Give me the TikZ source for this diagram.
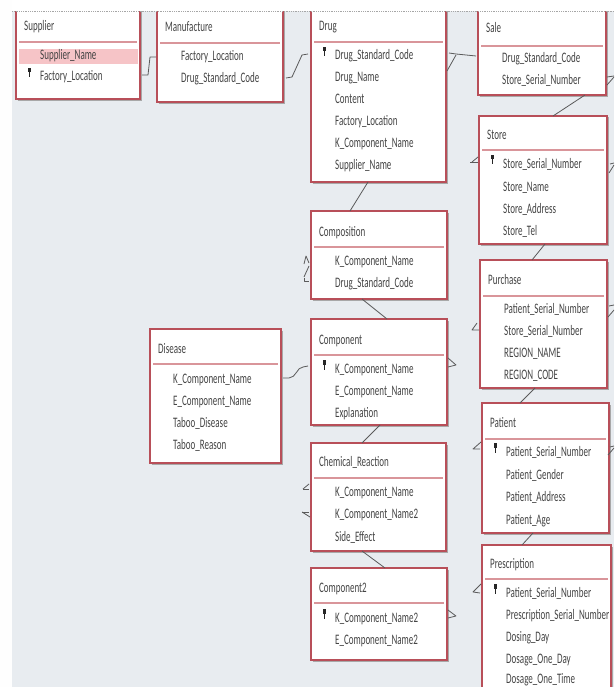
\documentclass[tikz,border=0pt]{standalone}
\usepackage{fontspec}
\newfontfamily\accfont[FakeStretch=0.62]{Carlito}
\usetikzlibrary{calc}
\definecolor{bg}{HTML}{E8ECF0}
\definecolor{bord}{HTML}{B84F59}
\definecolor{sepc}{HTML}{D9959A}
\definecolor{txt}{HTML}{444444}
\definecolor{hl}{HTML}{F6C4C7}
\definecolor{lnk}{HTML}{5A5A5A}
\definecolor{shadowc}{HTML}{A8A8A8}
\tikzset{
  tbl/.style={draw=bord, line width=1.4pt, fill=white, anchor=north west, inner sep=0pt, outer sep=0pt},
  fld/.style={anchor=base west, inner sep=0pt, text=txt, font=\accfont\fontsize{14.5}{15}\selectfont},
  ttl/.style={fld},
  lnkline/.style={draw=lnk, line width=0.8pt, line join=round},
  keyc/.style={fill=black!85},
}
% name, L, T, R, B, titleY, sepY, title
\newcommand\acctable[8]{%
  \draw[shadowc, line width=1pt] (#2+1.5,#5+1.3) -- (#4+1.3,#5+1.3) -- (#4+1.3,#3+1.5);
  \node[tbl, minimum width={(#4-#2)*1pt}, minimum height={(#5-#3)*1pt}] (#1) at (#2,#3) {};
  \draw[sepc, line width=1.3pt] (#2+3,#7) -- (#4-3,#7);
  \node[ttl] (#1-t) at (#2+8,#6+4) {#8};
}
% name, boxL, rowY, text
\newcommand\accfield[4]{\node[fld] (#1) at (#2+24,#3+4) {#4};}
% boxL, rowY
\newcommand\acckey[2]{%
  \fill[keyc] (#1+12,#2-9) rectangle (#1+15,#2-4.5);
  \fill[keyc] (#1+13,#2-4.5) rectangle (#1+14.2,#2+0.5);
}
\begin{document}
\begin{tikzpicture}[x=1pt,y=-1pt]
\useasboundingbox (0,0) rectangle (614,687);
\clip (0,0) rectangle (614,687);
\fill[bg] (0,0) rectangle (614,687);

% ---- tables ----
\acctable{sup}{16}{-5}{140}{99}{27}{42}{Supplier}
\fill[hl] (19,49) rectangle (138,64);
\accfield{sup-1}{16}{56}{Supplier\_Name}
\accfield{sup-2}{16}{77}{Factory\_Location}
\acckey{16}{77}

\acctable{man}{157}{-5}{283}{102}{28}{43}{Manufacture}
\accfield{man-1}{157}{57}{Factory\_Location}
\accfield{man-2}{157}{79}{Drug\_Standard\_Code}

\acctable{drug}{311}{-5}{446}{182}{27}{42}{Drug}
\accfield{drug-1}{311}{56}{Drug\_Standard\_Code}
\acckey{311}{56}
\accfield{drug-2}{311}{78}{Drug\_Name}
\accfield{drug-3}{311}{100}{Content}
\accfield{drug-4}{311}{122}{Factory\_Location}
\accfield{drug-5}{311}{144}{K\_Component\_Name}
\accfield{drug-6}{311}{166}{Supplier\_Name}

\acctable{sale}{478}{-5}{606}{95}{29}{46}{Sale}
\accfield{sale-1}{478}{59}{Drug\_Standard\_Code}
\accfield{sale-2}{478}{81}{Store\_Serial\_Number}

\acctable{store}{479}{116}{607}{244}{136}{150}{Store}
\accfield{store-1}{479}{164}{Store\_Serial\_Number}
\acckey{479}{164}
\accfield{store-2}{479}{187}{Store\_Name}
\accfield{store-3}{479}{209}{Store\_Address}
\accfield{store-4}{479}{231}{Store\_Tel}

\acctable{compo}{311}{211}{447}{299}{232}{247}{Composition}
\accfield{compo-1}{311}{261}{K\_Component\_Name}
\accfield{compo-2}{311}{283}{Drug\_Standard\_Code}

\acctable{comp}{311}{319}{447}{425}{340}{355}{Component}
\accfield{comp-1}{311}{369}{K\_Component\_Name}
\acckey{311}{369}
\accfield{comp-2}{311}{391}{E\_Component\_Name}
\accfield{comp-3}{311}{413}{Explanation}

\acctable{dis}{150}{329}{281}{463}{349}{364}{Disease}
\accfield{dis-1}{149}{379}{K\_Component\_Name}
\accfield{dis-2}{149}{401}{E\_Component\_Name}
\accfield{dis-3}{149}{423}{Taboo\_Disease}
\accfield{dis-4}{149}{445}{Taboo\_Reason}

\acctable{pur}{480}{260}{607}{388}{280}{296}{Purchase}
\accfield{pur-1}{480}{309}{Patient\_Serial\_Number}
\accfield{pur-2}{480}{331}{Store\_Serial\_Number}
\accfield{pur-3}{480}{353}{REGION\_NAME}
\accfield{pur-4}{480}{375}{REGION\_CODE}

\acctable{pat}{482}{403}{609}{533}{423}{439}{Patient}
\accfield{pat-1}{482}{452}{Patient\_Serial\_Number}
\acckey{482}{452}
\accfield{pat-2}{482}{475}{Patient\_Gender}
\accfield{pat-3}{482}{497}{Patient\_Address}
\accfield{pat-4}{482}{520}{Patient\_Age}

\acctable{chem}{311}{443}{446}{551}{462}{478}{Chemical\_Reaction}
\accfield{chem-1}{311}{492}{K\_Component\_Name}
\accfield{chem-2}{311}{514}{K\_Component\_Name2}
\accfield{chem-3}{311}{537}{Side\_Effect}

\acctable{compb}{311}{568}{447}{660}{588}{603}{Component2}
\accfield{compb-1}{311}{618}{K\_Component\_Name2}
\acckey{311}{618}
\accfield{compb-2}{311}{640}{E\_Component\_Name2}

\acctable{pres}{482}{545}{611}{705}{564}{579}{Prescription}
\accfield{pres-1}{482}{593}{Patient\_Serial\_Number}
\acckey{482}{593}
\accfield{pres-2}{482}{615}{Prescription\_Serial\_Number}
\accfield{pres-3}{482}{637}{Dosing\_Day}
\accfield{pres-4}{482}{659}{Dosage\_One\_Day}
\accfield{pres-5}{482}{679}{Dosage\_One\_Time}

% ---- connector fragments ----
\draw[lnkline] ($(sup.east)+(2,28)$) -- ++(6,0) -- ++(2,-18) -- ++(6,0);
\draw[lnkline] (286,78) -- (292,77) -- (302,55) -- (308,54);
\draw[lnkline] (449,53) -- (456,54) -- (476,56);
\draw[lnkline] (456,55) -- (447,71);
\draw[lnkline] (607,77) -- (614,76);
\draw[lnkline] (607,85) -- (614,77);
\draw[lnkline] ($(sale.south west)+(107,0)$) -- ($(store.north west)+(74,0)$);
\draw[lnkline] (470,162) -- (478,162);
\draw[lnkline] (472,162) -- (478,157);
\draw[lnkline] (610,164) -- (614,163);
\draw[lnkline] (609,173) -- (614,165);
\draw[lnkline] ($(drug.south west)+(57,0)$) -- ($(compo.north west)+(39,0)$);
\draw[lnkline] (304,264) -- (306,256) -- (309,263);
\draw[lnkline] (304,277) -- (309,266);
\draw[lnkline] (304,278) -- (304,281) -- (309,281);
\draw[lnkline] ($(compo.south west)+(51,0)$) -- ($(comp.north west)+(76,0)$);
\draw[lnkline] ($(store.south west)+(66,0)$) -- ($(pur.north west)+(52,0)$);
\draw[lnkline] (477,323) -- (472,330) -- (479,330);
\draw[lnkline] (609,306) -- (614,305);
\draw[lnkline] (608,317) -- (614,310);
\draw[lnkline] (448,358) -- (456,365) -- (448,367);
\draw[lnkline] (283,378) -- (289,378) .. controls (296,378) and (297,367) .. (303,367) -- (308,366);
\draw[lnkline] ($(pur.south west)+(55,0)$) -- ($(pat.north west)+(38,0)$);
\draw[lnkline] (481,442) -- (473,449) -- (480,449);
\draw[lnkline] (610,447) -- (614,446);
\draw[lnkline] (608,455) -- (614,448);
\draw[lnkline] ($(comp.south west)+(69,0)$) -- ($(chem.north west)+(51,0)$);
\draw[lnkline] (303,489) -- (309,489);
\draw[lnkline] (303,489) -- (309,484);
\draw[lnkline] (302,512) -- (309,512);
\draw[lnkline] (302,512) -- (310,517);
\draw[lnkline] ($(chem.south west)+(51,0)$) -- ($(compb.north west)+(74,0)$);
\draw[lnkline] (448,610) -- (456,616) -- (448,618);
\draw[lnkline] ($(pat.south west)+(51,0)$) -- ($(pres.north west)+(40,0)$);
\draw[lnkline] (481,584) -- (473,592) -- (480,593);

% ---- window edges ----
\fill[white] (0,0) rectangle (614,11);
\fill[white!96!bg] (0,0) rectangle (12,687);
\draw[gray!70, densely dotted, line width=0.8pt] (12,11) -- (614,11);
\end{tikzpicture}
\end{document}
